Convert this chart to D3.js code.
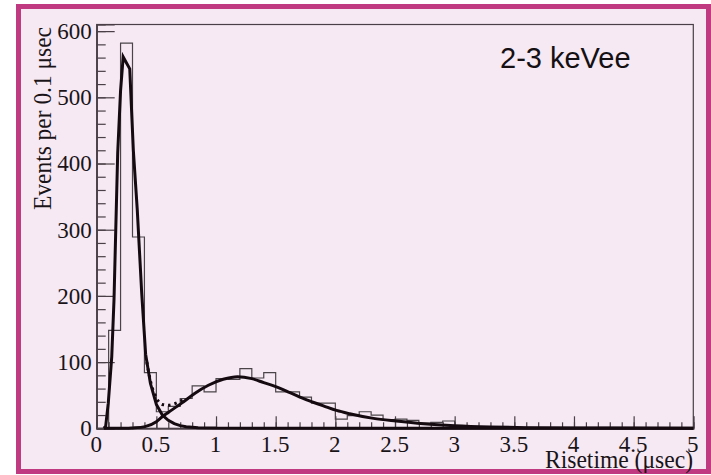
<!DOCTYPE html>
<html>
<head>
<meta charset="utf-8">
<script src="https://cdn.jsdelivr.net/npm/d3@7"></script>
<style>
  html, body { margin: 0; padding: 0; background: #ffffff; }
  svg { display: block; }
</style>
</head>
<body>
<svg id="chart" width="711" height="475"></svg>
<script>
// Risetime histogram, 0.1 µs bins from 0 to 5 µs
const binStart = 0;
const binWidth = 0.1;
const counts = [
  0, 148, 582, 289, 84, 25, 33, 45, 64, 55,
  75, 74, 90, 76, 84, 55, 55, 47, 38, 38,
  14, 19, 25, 20, 13, 14, 12, 8, 9, 11,
  2, 1, 2, 1, 0, 1, 0, 0, 0, 0,
  0, 0, 0, 0, 0, 0, 0, 0, 0, 0
];

// Fast (surface) component of the fit
const fastX = [0.06, 0.075, 0.097, 0.126, 0.145, 0.176, 0.200, 0.222, 0.277, 0.307, 0.340, 0.377, 0.410, 0.450, 0.500, 0.550, 0.600, 0.650, 0.700, 0.750, 0.850, 1.000, 1.500, 5.000];
const fastY = [0, 3, 38, 108, 194, 416, 510, 561, 543, 420, 330, 205, 112, 68, 36, 20, 12, 7, 4, 2.5, 1, 0.3, 0, 0];

// Slow (bulk) component of the fit
const slowX = [0.06, 0.25, 0.30, 0.405, 0.50, 0.56, 0.60, 0.712, 0.824, 0.936, 1.06, 1.18, 1.30, 1.40, 1.50, 1.62, 1.76, 1.90, 2.01, 2.12, 2.32, 2.51, 2.74, 3.00, 3.30, 3.60, 4.00, 5.00];
const slowY = [0, 0, 0.5, 2.5, 10, 19, 24, 38, 53, 65, 74, 78, 75, 69, 63, 54, 43, 34, 27, 22, 15, 11, 7, 4, 2, 1, 0.5, 0];

// Sum of both components where it separates from them
const totalX = [0.42, 0.45, 0.50, 0.55, 0.60, 0.65, 0.70, 0.75];
const totalY = [100, 72, 46, 36, 35, 37, 41, 45];

// Axis ticks and labels
const xTickValues = [0, 0.5, 1, 1.5, 2, 2.5, 3, 3.5, 4, 4.5, 5];
const xTickLabels = ["0", "0.5", "1", "1.5", "2", "2.5", "3", "3.5", "4", "4.5", "5"];
const yTickValues = [0, 100, 200, 300, 400, 500, 600];
const yTickLabels = ["0", "100", "200", "300", "400", "500", "600"];

const xTitle = "Risetime (μsec)";
const yTitle = "Events per 0.1 μsec";
const energyLabel = "2-3 keVee";

const frame = { left: 96.7, right: 693.3, top: 24.5, bottom: 428.3 };

const svg = d3.select("#chart");

// Slide-style background with magenta border
svg.append("rect")
  .attr("x", 18.5).attr("y", 6.5)
  .attr("width", 690).attr("height", 465)
  .attr("fill", "#f6e9f3")
  .attr("stroke", "#c03a82")
  .attr("stroke-width", 5);

const x = d3.scaleLinear().domain([0, 5]).range([frame.left, frame.right]);
const y = d3.scaleLinear().domain([0, 610]).range([frame.bottom, frame.top]);

const axisColor = "#4a3f46";
const textColor = "#1a1418";
const serif = "'Liberation Serif', 'Times New Roman', 'DejaVu Serif', serif";

// Frame
svg.append("rect")
  .attr("x", frame.left).attr("y", frame.top)
  .attr("width", frame.right - frame.left)
  .attr("height", frame.bottom - frame.top)
  .attr("fill", "none")
  .attr("stroke", axisColor)
  .attr("stroke-width", 1.2);

// Y axis: major + minor ticks drawn inward
const yMinor = svg.append("g")
  .attr("transform", `translate(${frame.left},0)`)
  .call(d3.axisLeft(y).tickValues(d3.range(0, 601, 20)).tickSize(-9).tickFormat(""));
const yMajor = svg.append("g")
  .attr("transform", `translate(${frame.left},0)`)
  .call(d3.axisLeft(y).tickValues(yTickValues).tickSize(-18).tickPadding(5)
    .tickFormat((d, i) => yTickLabels[i]));

// X axis: major + minor ticks drawn inward
const xMinor = svg.append("g")
  .attr("transform", `translate(0,${frame.bottom})`)
  .call(d3.axisBottom(x).ticks(50).tickSize(-6).tickFormat(""));
const xMajor = svg.append("g")
  .attr("transform", `translate(0,${frame.bottom})`)
  .call(d3.axisBottom(x).tickValues(xTickValues).tickSize(-12).tickPadding(7)
    .tickFormat((d, i) => xTickLabels[i]));

[yMinor, yMajor, xMinor, xMajor].forEach(g => {
  g.select(".domain").attr("stroke", axisColor).attr("stroke-width", 1.2);
  g.selectAll(".tick line").attr("stroke", axisColor).attr("stroke-width", 1.2);
});
yMajor.selectAll(".tick text")
  .attr("font-family", serif).attr("font-size", 23).attr("fill", textColor);
xMajor.selectAll(".tick text")
  .attr("font-family", serif).attr("font-size", 23).attr("fill", textColor)
  .attr("dx", "-1");

// Histogram outline
const histPts = [[binStart, 0]];
counts.forEach((c, i) => {
  const lo = binStart + i * binWidth, hi = lo + binWidth;
  histPts.push([lo, c], [hi, c]);
});
histPts.push([binStart + counts.length * binWidth, 0]);

svg.append("path")
  .datum(histPts)
  .attr("fill", "none")
  .attr("stroke", "#4a4448")
  .attr("stroke-width", 1.2)
  .attr("d", d3.line().x(d => x(d[0])).y(d => y(d[1])));

// Fit curves
const curveColor = "#140a10";
svg.append("path")
  .datum(totalX.map((v, i) => [v, totalY[i]]))
  .attr("fill", "none")
  .attr("stroke", curveColor)
  .attr("stroke-width", 3)
  .attr("stroke-dasharray", "2.5,4")
  .attr("d", d3.line().curve(d3.curveMonotoneX).x(d => x(d[0])).y(d => y(d[1])));

svg.append("path")
  .datum(slowX.map((v, i) => [v, slowY[i]]))
  .attr("fill", "none")
  .attr("stroke", curveColor)
  .attr("stroke-width", 3)
  .attr("stroke-linejoin", "round")
  .attr("d", d3.line().curve(d3.curveMonotoneX).x(d => x(d[0])).y(d => y(d[1])));

svg.append("path")
  .datum(fastX.map((v, i) => [v, fastY[i]]))
  .attr("fill", "none")
  .attr("stroke", curveColor)
  .attr("stroke-width", 3)
  .attr("stroke-linejoin", "miter")
  .attr("d", d3.line().x(d => x(d[0])).y(d => y(d[1])));

// Axis titles
svg.append("text")
  .attr("transform", `translate(51,27) rotate(-90)`)
  .attr("text-anchor", "end")
  .attr("font-family", serif)
  .attr("font-size", 26)
  .attr("textLength", 183)
  .attr("lengthAdjust", "spacingAndGlyphs")
  .attr("fill", textColor)
  .text(yTitle);

svg.append("text")
  .attr("x", 693).attr("y", 468)
  .attr("text-anchor", "end")
  .attr("font-family", serif)
  .attr("font-size", 26)
  .attr("textLength", 148)
  .attr("lengthAdjust", "spacingAndGlyphs")
  .attr("fill", textColor)
  .text(xTitle);

// Energy window label
svg.append("text")
  .attr("x", 500).attr("y", 68)
  .attr("font-family", "'Liberation Sans', Arial, Helvetica, sans-serif")
  .attr("font-size", 29)
  .attr("fill", "#141014")
  .text(energyLabel);
</script>
</body>
</html>
